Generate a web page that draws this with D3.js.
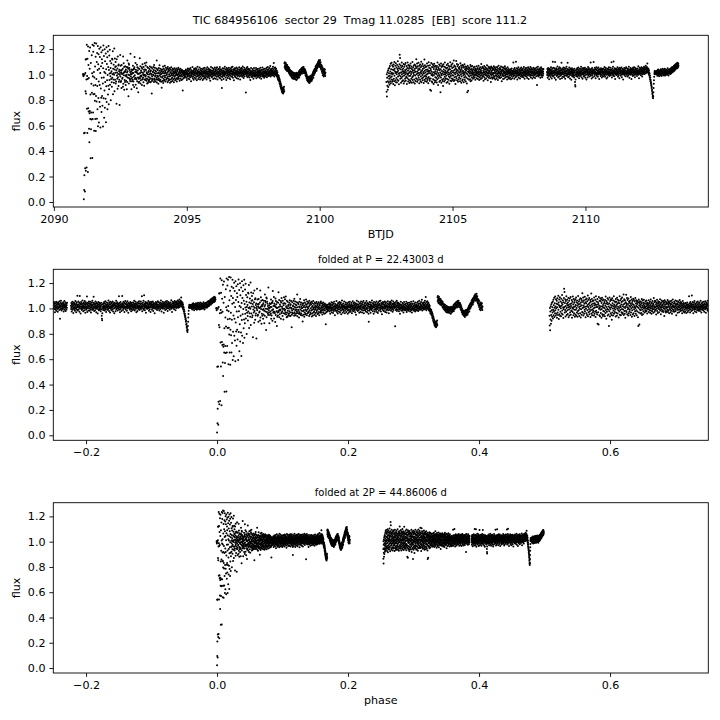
<!DOCTYPE html>
<html>
<head>
<meta charset="utf-8">
<script src="https://cdnjs.cloudflare.com/ajax/libs/d3/7.8.5/d3.min.js"></script>
<style>
body { margin: 0; background: #fff; }
text { font-family: "DejaVu Sans", sans-serif; fill: #000; }
</style>
</head>
<body>
<div id="chart"></div>
<script>
var mainTitle = "TIC 684956106  sector 29  Tmag 11.0285  [EB]  score 111.2";
var period = 22.43003;
var epoch = 2091.125;
var cadence = 1 / 144;           // 10 min between samples
var segStarts = [2091.0978, 2102.51, 2108.55];

// flux in per-mille, one row = 18 samples = 0.125 d
var fluxA = [
 1004,997,986,1003,22,540,95,210,998,543,83,265,1012,870,
 1118,245,852,1120,962,270,1235,731,988,542,1124,965,236,1221,735,1076,711,973,
 574,1186,468,697,1045,715,1212,652,843,343,1090,570,703,928,648,1152,858,1010,
 345,1235,652,986,703,1180,845,914,1226,1020,560,978,847,1247,795,1064,652,918,
 1140,557,832,1243,965,788,1098,653,1170,910,728,1036,1225,594,1082,816,1160,945,
 624,1045,1202,785,918,1138,748,1012,584,1215,890,1066,818,1175,706,975,1120,832,
 1090,755,1190,930,593,1050,1228,815,978,1146,662,1020,875,1198,740,1104,942,1010,
 810,1165,625,1042,908,1214,784,1083,955,1136,728,996,1182,843,1060,912,1225,768,
 1035,884,1150,958,1008,1195,920,1106,987,1052,798,1012,965,1088,1026,940,905,1124,
 976,1118,1003,1184,846,1046,962,1010,1078,935,998,1205,870,1040,1126,960,1060,1015,
 1098,930,1065,945,1034,772,1120,992,1016,968,1048,888,1142,980,1005,1072,910,1080,
 944,1026,960,1038,762,998,1012,1154,985,1070,942,1032,950,1018,895,1075,1035,1006,
 968,1004,976,1046,905,1142,928,1012,1088,995,1060,880,1024,958,1018,942,1066,990,
 1028,918,1040,952,996,1060,982,884,1016,942,1110,1026,1058,975,1046,998,830,1086,
 930,1078,972,1052,995,1036,960,1020,948,1164,1005,985,968,1025,884,1002,1040,948,
 1012,976,1034,960,1070,918,1012,945,1042,985,1046,902,1058,1138,994,966,1020,975,
 1090,920,1038,972,1024,964,1016,892,1078,948,1058,1010,1032,978,1004,862,1050,935,
 968,1006,944,1044,980,1128,972,1012,1066,930,990,955,1030,984,1018,992,1058,918,
 1046,962,1082,966,1014,978,1002,940,1060,995,1038,912,1024,962,1088,998,1040,984,
 958,1072,990,1036,970,1094,952,1018,1008,930,1060,966,1002,934,1052,982,1020,945,
 1028,956,1000,962,1044,978,1064,942,1010,1026,940,1032,968,1058,998,1004,852,950,
 984,1048,966,1022,960,1020,998,1060,994,1036,942,1076,970,1012,958,1054,986,1030,
 946,1006,990,1024,962,1048,976,1110,938,1010,964,1042,990,1034,982,958,928,1016,
 1052,970,1008,956,1074,992,1030,948,1046,960,1018,982,1002,944,1004,1038,896,1026,
 978,1040,950,1012,986,1064,934,1022,968,1046,952,1008,990,1034,958,1070,980,1016,
 1028,946,1054,992,1010,962,1038,970,1002,1048,974,1016,940,1060,986,1024,952,1036,
 968,1044,1002,958,1030,984,1052,936,1012,990,1040,962,1020,944,1058,996,1006,970,
 1034,978,1010,950,1046,992,1022,964,1004,1038,940,1016,986,1050,972,1008,1026,956,
 990,1036,960,1018,1000,1048,972,1010,946,1032,994,1024,966,1042,1002,978,1054,984,
 1012,968,1040,996,1022,952,1034,986,1008,1046,970,1016,992,1030,958,1020,1000,1038,
 984,1020,962,1010,875,1030,996,1018,972,1006,1024,990,1012,978,1028,1002,986,1014,
 1012,985,1031,1040,998,976,1009,1022,957,1003,1035,1017,984,992,1048,1006,969,1026,
 1001,1029,1044,988,963,1015,1008,1037,979,995,1052,1020,990,947,1011,1034,998,1018,
 982,1006,1025,1059,1013,971,986,1030,1002,960,1021,1043,1009,994,1038,975,1016,1050,
 1027,993,968,1010,1036,1004,1047,982,955,1019,1008,1031,1062,989,1000,1024,966,1013,
 1039,1012,990,977,1023,1055,1001,1018,961,1006,1033,985,1014,1046,998,972,1028,1009,
 996,1020,1041,1003,958,984,1026,1011,1049,992,967,1017,1035,1007,980,1053,1022,989,
 1008,974,1015,1032,999,1044,1019,962,987,1024,1006,1057,1013,978,1002,1038,991,1025,
 1047,1010,983,996,1029,970,1016,1040,1005,951,1021,993,1034,1060,1002,985,1012,1031,
 979,1004,1027,1052,1014,988,1009,965,1036,1018,997,1043,1001,972,1025,1011,1055,990,
 1022,1037,994,968,1006,1030,1048,1010,983,1015,1058,999,961,1027,1004,1040,986,1019,
 1013,990,1045,1021,976,1002,1033,1059,995,1008,969,1024,1042,1000,984,1017,1036,957,
 894,1028,1006,981,1050,1014,993,1032,1003,966,1020,1047,1011,988,1026,999,1062,1015,
 1000,1041,977,1018,1009,1035,958,1024,1051,990,1007,1029,974,1013,1044,996,1019,1033,
 987,1016,1054,1002,971,1027,1011,1040,993,964,1021,1006,1048,1030,982,1009,1025,1058,
 1035,1003,989,1023,1061,1008,976,1014,1042,1000,1029,955,1017,1038,996,1012,1050,984,
 1006,1031,1045,980,1015,997,1026,1055,1009,972,1019,1036,1003,1048,988,1024,967,1013,
 1022,994,1011,1039,1057,1004,985,1030,1016,962,1008,1043,1027,990,1018,1052,999,1034,
 1010,1047,982,1006,1025,1063,1014,993,1036,1001,974,1029,1012,1054,987,1020,1040,1003,
 1028,1005,1042,1016,860,1033,1009,988,1051,1022,996,1015,1060,979,1037,1007,1024,1046,
 989,1026,1007,1043,1014,978,1000,1035,994,1019,958,1009,1031,997,1052,1005,983,1023,
 1025,999,1017,981,1043,1008,990,1034,1004,968,1021,996,1051,1013,985,1030,1007,992,
 1000,1034,1008,985,1021,1052,995,972,1016,1039,1003,990,1028,1011,1044,981,1019,997,
 1011,989,1028,1045,996,1020,976,1007,1034,992,1015,1053,985,1024,1000,968,1038,1010,
 1002,1034,989,1015,1056,997,1021,982,1010,1039,992,1027,1004,975,1046,1013,988,1025,
 1016,994,1031,1007,984,1044,1019,998,1053,1011,980,1026,1002,1037,990,1060,1014,997,
 1007,1041,1020,989,1030,1012,1051,995,1025,1003,1068,1017,984,1036,1010,1044,998,1023,
 1034,1010,992,1048,1021,1029,1003,1061,1016,995,1040,1090,1008,1026,985,1051,1017,999,
 1029,1056,1010,1038,996,1023,1045,1002,1017,984,1031,1006,990,1019,973,998,960,986,
 983,961,990,952,975,944,968,930,957,921,946,909,934,897,925,889,912,878,
 901,866,889,873,858,884,869,896,851,877,892,862,881,905,870,1088,1059,1097,
 1072,1045,1083,1060,1091,1038,1066,1079,1049,1070,1031,1058,1075,1042,1063,1026,1052,1037,
 1060,1028,1045,1014,1039,1051,1007,1030,1020,998,1035,1012,1026,990,1017,1003,1029,985,
 1011,978,1004,992,1021,969,997,1008,983,1015,972,990,1002,965,994,1012,980,999,
 971,1000,986,1010,963,993,1005,979,958,996,1014,982,1003,968,990,1008,975,994,
 1001,983,1016,995,1024,978,1008,1030,992,1012,1037,999,1020,1005,1042,1013,1028,1046,
 1019,1051,1030,1008,1044,1026,1058,1035,1013,1049,1039,1060,1022,1045,1031,1010,1038,1024,
 1042,1018,1030,995,1024,1006,984,1012,990,969,998,978,956,985,963,975,948,967,
 959,982,940,968,951,975,933,962,947,985,958,971,944,990,966,953,980,962,
 975,951,988,999,966,1004,982,1013,993,1022,976,1008,1030,997,1016,1039,1006,1028,
 1044,1017,1036,1059,1026,1048,1070,1039,1055,1031,1078,1062,1047,1085,1058,1069,1093,1074,
 1101,1068,1086,1112,1079,1095,1060,1104,1088,1072,1115,1083,1062,1096,1050,1077,1038,1064,
 1049,1071,1025,1043,1012,1058,1030,994,1019,1037,1003,1026,985,1046,1010,1031,997,1020,1040,1006,988,1015
];
var fluxB = [
 942,865,1003,828,975,912,1018,880,948,1032,902,986,1045,935,1010,968,1052,921,
 990,1068,947,1024,978,1085,932,1006,1041,961,1093,985,1015,944,1072,1002,958,1037,
 1061,926,1009,1080,968,1033,948,1099,990,1046,917,1025,1070,955,1012,1088,940,1018,
 973,1055,1002,938,1076,1021,960,1043,1105,984,1030,952,1064,1008,925,1049,995,1082,
 1155,1012,1130,968,1042,987,1071,936,1019,1058,974,1095,1003,948,1037,1068,985,1024,
 956,1047,1010,1083,930,1026,992,1061,945,1014,1078,968,1035,1002,1090,951,1020,979,
 1039,984,1067,926,1008,1052,971,1094,998,1031,946,1075,1011,962,1045,989,1060,934,
 1016,1072,953,1027,990,1087,942,1049,1004,968,1063,1021,935,1041,980,1098,958,1030,
 986,1055,1012,940,1069,997,1034,961,1080,1018,929,1046,993,1074,950,1025,1061,972,
 1120,1003,968,1051,1087,944,1022,1009,1065,957,1036,990,1092,975,1013,1048,931,1070,
 998,1040,962,1079,1015,948,1057,985,1026,1101,939,1011,1068,970,1034,996,1083,955,
 1045,978,1021,1066,933,1008,1052,987,1118,960,1030,1074,947,1017,992,1059,969,1038,
 982,1063,1001,944,1086,1024,958,1040,1007,973,1069,932,1028,1096,981,1012,1054,965,
 1029,952,1074,880,1011,1048,969,1035,873,1090,997,1022,946,1060,1005,938,1081,990,
 1057,964,1018,1072,927,1043,996,1085,955,1013,1062,940,1026,980,1070,1008,951,1039,
 975,1051,1002,938,1067,1021,963,1094,988,1036,919,1058,1011,974,1045,996,1080,944,
 1033,989,1070,952,1016,862,1041,978,1087,1005,936,1059,994,1028,961,1073,1009,949,
 1066,910,1023,1081,967,1040,1000,945,1062,1017,983,1095,958,1031,1004,1056,972,1019,
 991,1048,936,1075,1012,966,1053,1027,942,1084,998,1036,960,1069,1014,985,1044,928,
 1061,1003,975,1040,1096,951,1020,988,1065,1009,947,1077,1030,969,1051,995,1086,957,
 1018,964,1058,992,1031,1110,949,1012,1072,980,1037,958,1064,1003,926,1049,1016,982,
 1107,1040,971,1027,1083,955,1010,1066,993,1034,944,1078,1001,962,1052,1021,975,1045,
 990,1060,1014,948,1036,1089,967,1025,1001,1071,935,1043,985,1058,1012,952,1030,1076,
 962,1028,1067,994,1009,940,1054,1018,978,1082,1003,957,1039,1064,986,1020,946,1050,
 1034,975,1011,1059,930,1046,862,1003,1070,968,1025,873,1042,991,1057,1016,959,1028,
 985,1051,1006,964,1038,1075,948,1021,992,1063,1010,954,1044,978,1030,1068,999,1013,
 1022,968,1041,1005,986,1056,1013,975,1034,997,1062,980,1018,1047,959,1026,1003,1040,
 994,1031,1010,1065,972,1019,1043,988,1008,1052,965,1027,1001,1070,984,1015,1038,957,
 1046,1002,978,1023,1058,991,1012,1037,966,1029,1083,995,1017,1049,973,1006,1061,985,
 1011,1054,989,1032,952,1020,1045,1000,1068,979,1014,1039,963,1025,1057,997,1009,1042,
 970,1027,1050,994,1016,1073,983,1035,1006,955,1044,1019,992,1062,1008,975,1030,1052,
 1024,986,1011,1058,971,1037,1002,1047,941,1018,1064,996,1029,980,1053,1010,967,1035,
 1003,1049,978,1015,1041,990,1066,1008,972,1033,1055,985,1020,1044,961,1012,1038,995,
 1057,992,1026,969,1039,1011,982,1060,1004,1030,958,1046,1015,993,1070,1022,976,1009,
 985,1036,1013,1052,974,1007,1043,996,1025,1063,980,1016,1034,947,1028,1005,1058,990,
 1040,1001,966,1031,1018,1055,989,1012,1047,970,1024,1008,1066,994,1037,979,1015,1050,
 998,1027,1045,983,1010,1036,962,1021,1003,1058,987,1032,1014,975,1043,1006,1025,968,
 1021,990,1036,1008,975,1014,1042,999,1025,963,1010,1033,988,1047,1004,1019,972,1028,
 1001,1030,1013,984,1095,1022,996,1041,1009,968,1027,1051,993,1015,1036,979,1006,1024,
 1101,1012,985,1032,1050,997,1018,962,1029,1008,1044,990,1017,1058,1002,976,1035,1011,
 1026,994,1039,1005,970,1021,1048,1012,986,1031,1003,1055,996,1019,1040,981,1010,1034,
 991,1017,1046,1002,979,1029,1013,1060,995,1024,1007,968,1038,1015,989,1049,1020,1000,
 1033,1008,985,1027,1052,999,1016,974,1040,1011,1031,993,1057,1018,1004,966,1029,1043,
 1012,1046,1001,1024,988,1035,1060,997,1019,978,1042,1008,1026,1050,995,1013,1037,970,
 1023,992,1040,1015,1004,1053,981,1028,1009,1045,996,1020,1036,973,1012,1048,1001,1030,
 1006,1034,987,1019,1056,1010,918,1025,1042,993,1015,1061,1002,1028,984,1039,1017,995,
 1041,1011,1027,998,1049,1020,976,1035,1007,1024,1058,990,1014,1032,1003,1046,979,1021,
 1018,1037,992,1025,1006,1044
];
var fluxC = [
 1021,996,1043,1008,975,1030,1014,1052,989,1018,1037,1001,964,1025,1046,1010,993,1033,
 1006,1040,981,1019,1058,998,1027,1012,969,1035,1003,1049,990,1022,1100,1011,984,1030,
 1015,1054,992,1028,1007,1045,973,1020,1098,1002,1036,1016,960,1031,1050,995,1012,1041,
 988,1026,1009,1063,997,1018,1039,978,1024,1005,1047,1013,985,1034,1058,1001,1020,966,
 1032,1008,1049,990,1017,1036,1000,1093,1011,972,1029,1044,1004,1021,983,1039,1015,1055,
 1001,1038,1016,981,1027,1052,993,1010,1035,968,1024,1006,1047,1013,990,1030,1061,1002,
 1025,990,1044,1011,1092,1003,1033,979,1018,1040,1007,985,1026,1055,999,1016,1036,970,
 1012,1047,998,1023,1008,1039,960,1020,1031,994,1050,1013,985,1029,1004,1042,1017,989,
 1036,1002,1021,978,1014,1045,993,1028,942,918,906,961,1003,1032,1015,987,1040,1009,
 996,1025,1050,1007,983,1019,1038,1001,1056,992,1013,1030,971,1022,1046,1005,1018,989,
 1028,1010,1043,994,1017,1062,1000,1024,980,1035,1012,1048,1003,967,1031,1015,1052,998,
 1009,1038,985,1020,1044,1006,1027,991,1054,1013,975,1033,1019,1041,999,1023,962,1030,
 1045,1003,1024,1011,978,1036,1015,1060,993,1020,1037,1002,1049,1014,984,1027,1008,1039,
 1000,1033,1017,1095,990,1022,1043,1006,969,1029,1012,1051,996,1018,1035,980,1025,1010,
 1026,1098,1008,1040,1014,987,1031,1053,999,1021,1009,1044,972,1016,1037,1003,1058,1012,
 991,1034,1016,1005,1047,1023,982,1030,1011,1056,1000,1019,1039,966,1025,1008,1042,1015,
 1037,1004,1028,989,1013,1050,1001,1024,1040,977,1018,1032,995,1045,1010,1026,985,1021,
 1008,1046,1019,1003,1035,994,1060,1012,1027,983,1038,1006,1023,1052,998,1015,1034,970,
 1029,1001,1043,1014,980,1025,1009,1048,1018,996,1036,1004,1057,1011,1022,988,1040,1016,
 1002,1033,1012,1054,995,1020,1038,1007,1096,1016,977,1030,1013,1045,1000,1024,1061,990,
 1021,1103,1004,1036,1017,986,1031,1050,1008,1023,966,1039,1014,1002,1046,1020,997,1034,
 1011,1042,999,1026,1058,1005,1019,982,1037,1012,1048,994,1028,1009,1040,972,1022,1053,
 1035,1007,1025,1046,990,1016,1032,1003,1055,1020,979,1030,1011,1043,1000,1024,1014,961,
 1018,1039,1004,1028,1012,1051,996,1034,1009,1022,1045,987,1016,1030,1006,1057,1013,998,
 1027,1002,1048,1015,984,1036,1021,1008,1044,993,1030,1017,1062,1003,1025,975,1040,1011,
 1006,1033,1019,1052,998,1024,1010,1041,965,1028,1014,1046,1000,1037,1019,988,1031,1055,
 1023,1009,1044,995,1030,1016,1058,1004,1027,980,1040,1012,1024,1050,999,1035,1008,1020,
 1041,1014,989,1032,1019,1047,1005,1026,1012,1065,998,1031,1017,972,1038,1009,1053,1022,
 1004,1036,1025,1049,1011,994,1039,1020,1058,1007,1030,1044,985,1026,1015,1052,1003,1034,
 1028,1048,1012,1037,1062,1019,1041,1005,1030,1056,1016,1043,1024,1070,1010,1038,1052,1021,
 1045,1027,1060,1034,1086,1018,1050,1031,1039,1012,1046,1025,1000,1033,1014,990,1008,975,
 992,962,978,948,958,932,940,915,922,895,905,872,880,848,858,825,836,815,
 830,862,895,928,956,982,1005,1018,1028,1010,1022,1003,1015,1026,1008,1019,1011,1024,
 1018,1002,1029,1010,991,1024,1035,1006,1015,1040,997,1021,1008,1032,986,1013,1026,1001,
 1009,1034,1017,995,1022,1041,1004,1013,1028,989,1019,1036,1000,1024,1011,1045,998,1016,
 1027,1003,1014,1038,992,1020,1008,1031,1046,1005,1017,993,1025,1040,1012,1001,1034,1019,
 1010,1036,1021,998,1030,1015,1049,1004,1023,1011,1038,992,1019,1027,1006,1042,1016,1031,
 1035,1014,1040,1022,1005,1046,1028,1012,1053,1030,1017,1044,1024,1059,1033,1019,1050,1038,
 1046,1027,1061,1039,1070,1043,1055,1031,1066,1048,1077,1052,1040,1069,1058,1083,1047,1064,
 1072,1055,1088,1061,1079,1050,1092,1068,1076,1059,1085,1070
];

var yTicks = [0, 0.2, 0.4, 0.6, 0.8, 1.0, 1.2];
var timeTicks = [2090, 2095, 2100, 2105, 2110];
var phaseTicks = [-0.2, 0, 0.2, 0.4, 0.6];
var phaseRange = [-0.25, 0.75];

var W = 720, H = 720;
var left = 53.3, right = 708.3;
var tickLen = 3.9, fs = 11.1;

// build points
var points = [];
[fluxA, fluxB, fluxC].forEach(function(arr, s) {
    arr.forEach(function(v, i) {
        points.push({ t: segStarts[s] + i * cadence, f: v / 1000 });
    });
});

function fold(t, p) {
    var ph = ((t - epoch) / p) % 1;
    if (ph < 0) ph += 1;
    if (ph >= 0.75) ph -= 1;
    return ph;
}

// matplotlib style 5% margins
function padded(ext) {
    var r = ext[1] - ext[0];
    return [ext[0] - 0.05 * r, ext[1] + 0.05 * r];
}

var tDomain = padded(d3.extent(points, function(d) { return d.t; }));
var fDomain = padded(d3.extent(points, function(d) { return d.f; }));

var panels = [
    { top: 35.3, bottom: 207, xv: function(d) { return d.t; }, domain: tDomain,
      ticks: timeTicks, fmt: d3.format("d"), xlabel: "BTJD", title: null },
    { top: 269.3, bottom: 440.3, xv: function(d) { return fold(d.t, period); }, domain: phaseRange,
      ticks: phaseTicks, fmt: d3.format(".1f"), xlabel: null, title: "folded at P = 22.43003 d" },
    { top: 502.7, bottom: 673, xv: function(d) { return fold(d.t, 2 * period); }, domain: phaseRange,
      ticks: phaseTicks, fmt: d3.format(".1f"), xlabel: "phase", title: "folded at 2P = 44.86006 d" }
];

var svg = d3.select("#chart").append("svg")
    .attr("width", W)
    .attr("height", H);

svg.append("rect").attr("width", W).attr("height", H).attr("fill", "#fff");

// main title
svg.append("text")
    .attr("x", 360)
    .attr("y", 24)
    .attr("text-anchor", "middle")
    .style("font-size", fs + "px")
    .style("white-space", "pre")
    .text(mainTitle);

panels.forEach(function(p) {
    var x = d3.scaleLinear().domain(p.domain).range([left, right]);
    var y = d3.scaleLinear().domain(fDomain).range([p.bottom, p.top]);

    var clipId = "clip" + Math.round(p.top);
    svg.append("clipPath").attr("id", clipId)
        .append("rect")
        .attr("x", left).attr("y", p.top)
        .attr("width", right - left).attr("height", p.bottom - p.top);

    svg.append("g")
        .attr("clip-path", "url(#" + clipId + ")")
        .selectAll("circle")
        .data(points)
        .enter().append("circle")
        .attr("cx", function(d) { return x(p.xv(d)); })
        .attr("cy", function(d) { return y(d.f); })
        .attr("r", 1.0)
        .attr("fill", "#000");

    var xAxis = d3.axisBottom(x).tickValues(p.ticks).tickFormat(p.fmt)
        .tickSizeInner(tickLen).tickSizeOuter(0).tickPadding(3.9);
    var yAxis = d3.axisLeft(y).tickValues(yTicks).tickFormat(d3.format(".1f"))
        .tickSizeInner(tickLen).tickSizeOuter(0).tickPadding(3.9);

    var gx = svg.append("g")
        .attr("transform", "translate(0," + p.bottom + ")")
        .call(xAxis);
    var gy = svg.append("g")
        .attr("transform", "translate(" + left + ",0)")
        .call(yAxis);

    [gx, gy].forEach(function(g) {
        g.select(".domain").remove();
        g.selectAll("line").attr("stroke", "#000").attr("stroke-width", 0.9);
        g.selectAll("text")
            .style("font-family", "'DejaVu Sans', sans-serif")
            .style("font-size", fs + "px")
            .attr("fill", "#000");
    });

    // frame
    svg.append("rect")
        .attr("x", left).attr("y", p.top)
        .attr("width", right - left).attr("height", p.bottom - p.top)
        .attr("fill", "none")
        .attr("stroke", "#000")
        .attr("stroke-width", 0.9);

    // y label
    svg.append("text")
        .attr("transform", "translate(20," + ((p.top + p.bottom) / 2) + ") rotate(-90)")
        .attr("text-anchor", "middle")
        .style("font-size", fs + "px")
        .text("flux");

    if (p.xlabel) {
        svg.append("text")
            .attr("x", (left + right) / 2)
            .attr("y", p.bottom + 31)
            .attr("text-anchor", "middle")
            .style("font-size", fs + "px")
            .text(p.xlabel);
    }

    if (p.title) {
        svg.append("text")
            .attr("x", (left + right) / 2)
            .attr("y", p.top - 6.7)
            .attr("text-anchor", "middle")
            .style("font-size", "10px")
            .text(p.title);
    }
});
</script>
</body>
</html>
